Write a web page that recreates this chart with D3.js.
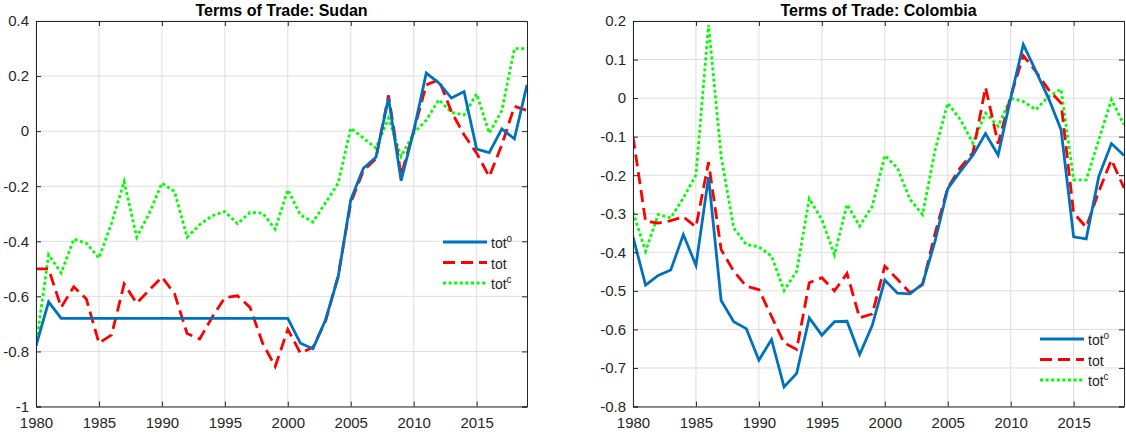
<!DOCTYPE html>
<html><head><meta charset="utf-8">
<script src="https://cdn.jsdelivr.net/npm/d3@7"></script>
<style>
body{margin:0;background:#fff;}
svg{display:block;font-family:"Liberation Sans",Arial,Helvetica,sans-serif;}
</style></head>
<body><svg id="chart" width="1126" height="436"></svg>
<script>
const years = d3.range(1980, 2020);
const xTicks = [1980,1985,1990,1995,2000,2005,2010,2015];

// Sudan
const sudanTotO = [-0.78,-0.62,-0.68,-0.68,-0.68,-0.68,-0.68,-0.68,-0.68,-0.68,
  -0.68,-0.68,-0.68,-0.68,-0.68,-0.68,-0.68,-0.68,-0.68,-0.68,
  -0.68,-0.77,-0.79,-0.685,-0.53,-0.25,-0.135,-0.095,0.12,-0.18,
  0.0,0.211,0.175,0.12,0.144,-0.065,-0.078,0.008,-0.028,0.168];
const sudanTot = [-0.50,-0.50,-0.64,-0.565,-0.61,-0.77,-0.74,-0.555,-0.625,-0.577,
  -0.53,-0.59,-0.735,-0.755,-0.675,-0.605,-0.598,-0.64,-0.77,-0.855,
  -0.72,-0.806,-0.785,-0.69,-0.525,-0.26,-0.144,-0.10,0.13,-0.16,
  0.0,0.168,0.187,0.07,-0.013,-0.08,-0.165,-0.05,0.09,0.075];
const sudanTotC = [-0.78,-0.449,-0.515,-0.392,-0.407,-0.461,-0.334,-0.183,-0.385,-0.298,
  -0.189,-0.219,-0.385,-0.34,-0.307,-0.292,-0.336,-0.295,-0.298,-0.356,
  -0.213,-0.304,-0.33,-0.26,-0.189,0.011,-0.025,-0.062,0.047,-0.092,
  -0.007,0.04,0.114,0.068,0.059,0.135,-0.007,0.075,0.30,0.30];
const sudanYTicks = [-1,-0.8,-0.6,-0.4,-0.2,0,0.2,0.4];

// Colombia
const colTotO = [-0.36,-0.485,-0.46,-0.446,-0.354,-0.434,-0.205,-0.525,-0.58,-0.598,
  -0.68,-0.626,-0.749,-0.714,-0.57,-0.615,-0.58,-0.579,-0.665,-0.59,
  -0.472,-0.506,-0.508,-0.482,-0.37,-0.235,-0.19,-0.148,-0.092,-0.148,
  0.0,0.139,0.07,0.0,-0.082,-0.36,-0.365,-0.203,-0.118,-0.149];
const colTot = [-0.10,-0.32,-0.324,-0.318,-0.308,-0.334,-0.166,-0.393,-0.449,-0.488,
  -0.497,-0.566,-0.635,-0.652,-0.479,-0.466,-0.50,-0.455,-0.57,-0.56,
  -0.436,-0.47,-0.505,-0.484,-0.35,-0.233,-0.18,-0.142,0.028,-0.118,
  0.004,0.11,0.069,0.022,-0.013,-0.298,-0.335,-0.242,-0.16,-0.233];
const colTotC = [-0.296,-0.397,-0.302,-0.311,-0.259,-0.199,0.19,-0.151,-0.337,-0.38,
  -0.386,-0.41,-0.499,-0.449,-0.261,-0.315,-0.406,-0.276,-0.332,-0.281,
  -0.149,-0.181,-0.263,-0.302,-0.134,-0.013,-0.056,-0.117,-0.039,-0.073,
  0.0,-0.009,-0.03,0.004,0.023,-0.212,-0.212,-0.108,-0.004,-0.069];
const colYTicks = [-0.8,-0.7,-0.6,-0.5,-0.4,-0.3,-0.2,-0.1,0,0.1,0.2];

const seriesNames = ["o", "", "c"];
const colors = ["#0072BD", "#FF0000", "#00FF00"];
const dashes = [null, "12,6", "3,2.6"];

const panels = [
  {title:"Terms of Trade: Sudan", x0:36, x1:527, yDom:[-1,0.4], yTicks:sudanYTicks,
   data:[sudanTotO, sudanTot, sudanTotC], leg:{x:443, y:242}},
  {title:"Terms of Trade: Colombia", x0:633, x1:1124, yDom:[-0.8,0.2], yTicks:colYTicks,
   data:[colTotO, colTot, colTotC], leg:{x:1040, y:339}}
];
const yTop = 21, yBot = 406.5;
const svg = d3.select("#chart");
const axisColor = "#262626";

panels.forEach((p, pi) => {
  const x = d3.scaleLinear().domain([1980, 2019]).range([p.x0, p.x1]);
  const y = d3.scaleLinear().domain(p.yDom).range([yBot, yTop]);
  const g = svg.append("g");
  // grid
  g.append("g").selectAll("line.gx").data(xTicks).join("line")
    .attr("x1", d=>x(d)).attr("x2", d=>x(d)).attr("y1", yTop).attr("y2", yBot)
    .attr("stroke", "#dedede").attr("stroke-width", 1);
  g.append("g").selectAll("line.gy").data(p.yTicks).join("line")
    .attr("x1", p.x0).attr("x2", p.x1).attr("y1", d=>y(d)).attr("y2", d=>y(d))
    .attr("stroke", "#dedede").attr("stroke-width", 1);
  // lines
  const clipId = "clip" + pi;
  svg.append("clipPath").attr("id", clipId).append("rect")
    .attr("x", p.x0).attr("y", yTop).attr("width", p.x1 - p.x0).attr("height", yBot - yTop);
  const lg = g.append("g").attr("clip-path", `url(#${clipId})`);
  const line = d3.line().x((d,i)=>x(years[i])).y(d=>y(d));
  [2,1,0].forEach(k => {
    lg.append("path").datum(p.data[k]).attr("d", line)
      .attr("fill", "none").attr("stroke", colors[k]).attr("stroke-width", 2.8)
      .attr("stroke-linejoin", "miter")
      .attr("stroke-dasharray", dashes[k]);
  });
  // axes
  const xb = d3.axisBottom(x).tickValues(xTicks).tickFormat(d3.format("d")).tickSize(-5).tickPadding(11);
  const xt = d3.axisTop(x).tickValues(xTicks).tickFormat("").tickSize(-5);
  const yl = d3.axisLeft(y).tickValues(p.yTicks).tickFormat(d=>String(d)).tickSize(-5).tickPadding(7);
  const yr = d3.axisRight(y).tickValues(p.yTicks).tickFormat("").tickSize(-5);
  const axes = [
    g.append("g").attr("transform", `translate(0,${yBot})`).call(xb),
    g.append("g").attr("transform", `translate(0,${yTop})`).call(xt),
    g.append("g").attr("transform", `translate(${p.x0},0)`).call(yl),
    g.append("g").attr("transform", `translate(${p.x1},0)`).call(yr)
  ];
  axes.forEach(a => {
    a.select(".domain").attr("stroke", axisColor).attr("stroke-width", 1);
    a.selectAll(".tick line").attr("stroke", axisColor);
    a.selectAll(".tick text").attr("fill", axisColor).style("font-size", "15px")
      .style("font-family", '"Liberation Sans",Arial,sans-serif');
  });
  // title
  svg.append("text").attr("x", (p.x0 + p.x1)/2).attr("y", 15.5)
    .attr("text-anchor", "middle").style("font-weight", "bold").style("font-size", "16px")
    .attr("fill", "#000").text(p.title);
  // legend
  const leg = svg.append("g");
  [0,1,2].forEach(k => {
    const ly = p.leg.y + k*20.5;
    leg.append("line").attr("x1", p.leg.x).attr("x2", p.leg.x + 44)
      .attr("y1", ly).attr("y2", ly).attr("stroke", colors[k]).attr("stroke-width", 2.8)
      .attr("stroke-dasharray", dashes[k]);
    const t = leg.append("text").attr("x", p.leg.x + 48).attr("y", ly + 6)
      .style("font-size", "14px").attr("fill", axisColor).text("tot");
    if (seriesNames[k]) t.append("tspan").attr("dy", -6).style("font-size", "10px").text(seriesNames[k]);
  });
});
</script>
</body></html>
